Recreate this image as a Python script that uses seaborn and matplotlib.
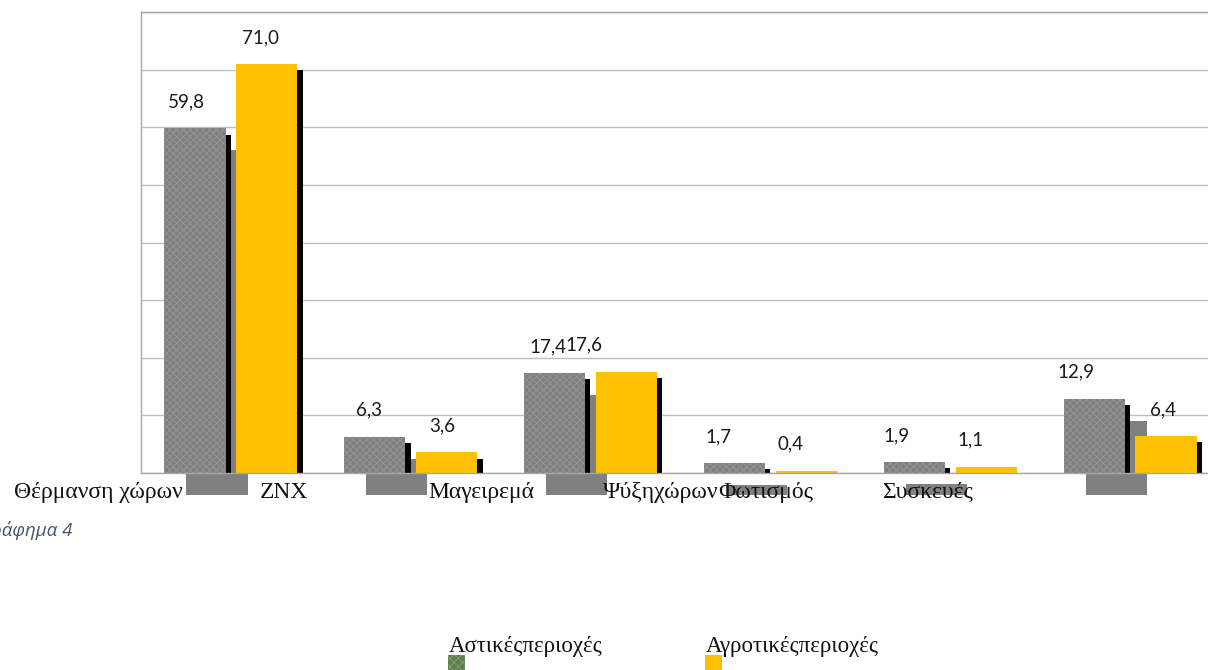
import matplotlib
matplotlib.use("Agg")
import matplotlib.pyplot as plt
import seaborn as sns
import pandas as pd
from matplotlib import patheffects as pe
from matplotlib.patches import Rectangle
from matplotlib.transforms import offset_copy

# values
categories = ["Θέρμανση χώρων", "ZNX", "Μαγειρεμά", "Ψύξηχώρων", "Φωτισμός", "Συσκευές"]
series = ["Αστικέςπεριοχές", "Αγροτικέςπεριοχές"]
urban = [59.8, 6.3, 17.4, 1.7, 1.9, 12.9]
rural = [71.0, 3.6, 17.6, 0.4, 1.1, 6.4]

df = pd.DataFrame({
    "cat": categories * 2,
    "area": [series[0]] * len(urban) + [series[1]] * len(rural),
    "value": urban + rural,
})

sns.set_style("white")
plt.rcParams["font.family"] = ["Liberation Serif", "DejaVu Serif"]
plt.rcParams["hatch.linewidth"] = 0.6

W, H = 1208, 670
fig = plt.figure(figsize=(W / 100, H / 100), dpi=100)


def fx(px):
    return px / W


def fy(py):
    return 1 - py / H


ax = fig.add_axes([fx(141), fy(473), fx(1220 - 141), (473 - 12) / H])

sns.barplot(data=df, x="cat", y="value", hue="area", order=categories,
            hue_order=series, palette=["#7f7f7f", "#ffc000"], width=0.8,
            gap=0.15, saturation=1, legend=False, ax=ax, zorder=2)

grey_bars, yellow_bars = ax.containers[0], ax.containers[1]

black_shadow = [pe.SimplePatchShadow(offset=(3.8, -4.5), shadow_rgbFace="black",
                                     alpha=1, hatch=None), pe.Normal()]
for p in grey_bars:
    p.set_hatch("xxxxx")
    p.set_edgecolor("#969696")
    p.set_linewidth(0)
    p.set_path_effects(black_shadow)
for p in yellow_bars:
    p.set_linewidth(0)
    p.set_path_effects(black_shadow)

# grey drop shadow of the urban bars (spills below the axis)
off = offset_copy(ax.transData, fig=fig, x=22, y=-22, units="dots")
for p in grey_bars:
    ax.add_patch(Rectangle((p.get_x(), 0), p.get_width(), p.get_height(),
                           transform=off, facecolor="#808080", lw=0,
                           clip_on=False, zorder=1.5))

ax.set_xlim(-0.5, 5.5)
ax.set_ylim(0, 80)
ax.set_yticks(range(0, 81, 10))
ax.set_yticklabels([])
ax.set_xticks([])
ax.set_xlabel("")
ax.set_ylabel("")
ax.tick_params(length=0)
ax.set_axisbelow(True)
ax.yaxis.grid(True, color="#bfbfbf", lw=1)
for s in ax.spines.values():
    s.set_color("#a6a6a6")
    s.set_linewidth(1)

# value labels (offsets in points, as placed in the source)
label_dx = [[-6, -4, -4.5, -11.5, -13, -13], [-4.5, -3, -31, -11.5, -11, -2]]
for bars, vals, dxs in zip(ax.containers, [urban, rural], label_dx):
    for p, v, dx in zip(bars, vals, dxs):
        ax.annotate(f"{v:.1f}".replace(".", ","),
                    (p.get_x() + p.get_width() / 2, p.get_height()),
                    xytext=(dx, 15), textcoords="offset points",
                    ha="center", va="baseline", fontsize=13.5,
                    family=["Lato", "DejaVu Sans"], color="#1a1a1a")

# category labels, shifted as in the source document
cat_font = dict(fontsize=17, color="#111111", va="baseline", zorder=5)
fig.text(fx(183), fy(498), categories[0], ha="right", **cat_font)
fig.text(fx(260), fy(498), categories[1], ha="left", **cat_font)
fig.text(fx(428), fy(498), categories[2], ha="left", **cat_font)
t4 = fig.text(fx(603), fy(498), categories[3], ha="left", **cat_font)
ax.annotate(categories[4], xy=(1, 0), xycoords=t4, ha="left", va="bottom",
            annotation_clip=False, fontsize=17, color="#111111", zorder=5)
fig.text(fx(882), fy(498), categories[5], ha="left", **cat_font)

# caption, cut at the left edge
fig.text(fx(72), fy(536), "Γράφημα 4", ha="right", va="baseline",
         fontsize=13.5, style="italic", color="#44546a",
         family=["Open Sans", "DejaVu Sans"])

# legend
fig.text(fx(449), fy(652), series[0], ha="left", va="baseline", fontsize=16.5,
         color="#111111")
fig.text(fx(706), fy(652), series[1], ha="left", va="baseline", fontsize=16.5,
         color="#111111")
fig.patches.append(Rectangle((fx(448), fy(671)), fx(17), 16 / H,
                             transform=fig.transFigure, facecolor="#5e7f4f",
                             hatch="xxxx", edgecolor="#86a077", lw=0))
fig.patches.append(Rectangle((fx(705), fy(671)), fx(17), 16 / H,
                             transform=fig.transFigure, facecolor="#ffc000",
                             lw=0))

fig.savefig("out.png", dpi=100)
